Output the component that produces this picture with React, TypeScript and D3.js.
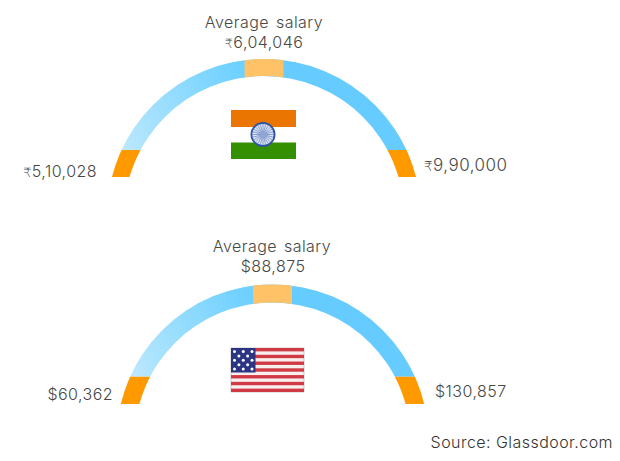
import * as d3 from "d3";

// salary figures
const countries = ["India", "USA"];
const lowSalary = [510028, 60362];
const averageSalary = [604046, 88875];
const highSalary = [990000, 130857];
const lowLabel = ["5,10,028", "$60,362"];
const averageLabel = ["6,04,046", "$88,875"];
const highLabel = ["9,90,000", "$130,857"];
const usStarRows = [3, 2, 3, 2, 3];

// layout per gauge
const centerX = [264, 272.5];
const centerY = [216, 440.5];
const outerR = [157, 156];
const innerR = [140, 138];
const bottomY = [177, 404];
const cutY = [150, 376.7];
const titleAt = [[264, 28], [272, 252]];
const averageAt = [[264, 48], [273, 272]];
const lowAt = [[97, 177], [113, 400]];
const highAt = [[424, 171], [435, 397]];
const highSize = [17, 16];

const BLOCK_HALF = 19.4;
const FONT = "Inter, 'Open Sans', sans-serif";
const INK = "#474747";

function Label({ x, y, text, anchor, rupee, size = 16 }: any) {
  return (
    <text x={x} y={y} textAnchor={anchor} fontFamily={FONT} fontWeight={300} fontSize={size} fill={INK}
      wordSpacing={2} letterSpacing={0.45}>
      {rupee && <tspan fontFamily="'DejaVu Sans'" fontSize={size * 0.8}>₹</tspan>}
      {text}
    </text>
  );
}

function Gauge({ i }: { i: number }) {
  const angle = d3.scaleLinear()
    .domain([lowSalary[i], averageSalary[i], highSalary[i]])
    .range([-Math.PI / 2, 0, Math.PI / 2]);
  const arc = d3.arc().innerRadius(innerR[i]).outerRadius(outerR[i]);
  const segment = (a: number, b: number) => arc({ startAngle: a, endAngle: b } as any) as string;

  const lowA = angle(lowSalary[i]);
  const avgA = angle(averageSalary[i]);
  const highA = angle(highSalary[i]);
  const blockA = Math.asin(BLOCK_HALF / innerR[i]) * 1.15;
  const id = countries[i];
  const isRupee = i === 0;
  const moved = `translate(${centerX[i]},${centerY[i]})`;

  return (
    <g>
      <defs>
        {/* gradient sits in the arc's translated space */}
        <linearGradient id={`fade${id}`} gradientUnits="userSpaceOnUse"
          x1={-outerR[i] + 15} x2={-BLOCK_HALF} y1={cutY[i] - centerY[i]} y2={cutY[i] - centerY[i] - 75}>
          <stop offset="0" stopColor="#bce8fd" />
          <stop offset="1" stopColor="#6dd0ff" />
        </linearGradient>
        <clipPath id={`blue${id}`}>
          <rect x={0} y={0} width={620} height={cutY[i]} />
        </clipPath>
        <clipPath id={`end${id}`}>
          <rect x={0} y={cutY[i]} width={620} height={bottomY[i] - cutY[i]} />
        </clipPath>
        <clipPath id={`mid${id}`}>
          <rect x={centerX[i] - BLOCK_HALF} y={0} width={BLOCK_HALF * 2} height={461} />
        </clipPath>
      </defs>
      <g clipPath={`url(#blue${id})`}>
        <path d={segment(lowA, avgA)} fill={`url(#fade${id})`} transform={moved} />
        <path d={segment(avgA, highA)} fill="#66ccff" transform={moved} />
      </g>
      <g clipPath={`url(#end${id})`}>
        <path d={segment(lowA, highA)} fill="#ff9900" transform={moved} />
      </g>
      <g clipPath={`url(#mid${id})`}>
        <path d={segment(avgA - blockA, avgA + blockA)} fill="#ffc266" transform={moved} />
      </g>
      <Label x={titleAt[i][0]} y={titleAt[i][1]} text="Average salary" anchor="middle" />
      <Label x={averageAt[i][0]} y={averageAt[i][1]} text={averageLabel[i]} anchor="middle" rupee={isRupee} />
      <Label x={lowAt[i][0]} y={lowAt[i][1]} text={lowLabel[i]} anchor="end" rupee={isRupee} />
      <Label x={highAt[i][0]} y={highAt[i][1]} text={highLabel[i]} anchor="start" rupee={isRupee} size={highSize[i]} />
    </g>
  );
}

function IndiaFlag() {
  const spokes = d3.range(24).map((d) => (d * 2 * Math.PI) / 24);
  return (
    <g>
      <rect x={231} y={110} width={65} height={17} fill="#ea7500" />
      <rect x={231} y={142.5} width={65} height={16.5} fill="#349000" />
      <g transform="translate(263,134.5)">
        <circle r={12.5} fill="#2f55a8" />
        <circle r={10.6} fill="#dfe6f4" />
        {spokes.map((a) => (
          <line key={a} x2={10.5 * Math.cos(a)} y2={10.5 * Math.sin(a)} stroke="#5f7dc0" strokeWidth={0.7} />
        ))}
        <circle r={3.5} fill="#8fa5d4" />
      </g>
    </g>
  );
}

function UsFlag() {
  const x = 231, y = 348, w = 73, h = 44;
  const stripe = d3.scaleBand().domain(d3.range(13).map(String)).range([y, y + h]);
  const row = d3.scalePoint().domain(usStarRows.map((_, r) => String(r))).range([y + 3.5, y + 21]);
  const col = d3.scalePoint().domain(d3.range(5).map(String)).range([x + 3.5, x + 21]);
  return (
    <g>
      <rect x={x} y={y} width={w} height={h} fill="#f7eeee" stroke="#aaa" strokeWidth={0.6} />
      {d3.range(0, 13, 2).map((s) => (
        <rect key={s} x={x} y={stripe(String(s))} width={w} height={stripe.bandwidth()} fill="#cf3a44" />
      ))}
      <rect x={x} y={y} width={24.5} height={24.5} fill="#2b3583" />
      {usStarRows.map((n, r) =>
        d3.range(n).map((c) => (
          <circle key={`${r}-${c}`} r={1.5} fill="#fff"
            cx={col(String(n === 3 ? c * 2 : c * 2 + 1))} cy={row(String(r))} />
        ))
      )}
    </g>
  );
}

export default function App() {
  return (
    <svg width={620} height={461} style={{ position: "absolute", left: 0, top: 0, background: "#fff" }}>
      {countries.map((_, i) => <Gauge key={i} i={i} />)}
      <IndiaFlag />
      <UsFlag />
      <text x={613} y={448} textAnchor="end" fontFamily={FONT} fontWeight={300} fontSize={16} letterSpacing={0.45} fill="#333">
        Source: Glassdoor.com
      </text>
    </svg>
  );
}
